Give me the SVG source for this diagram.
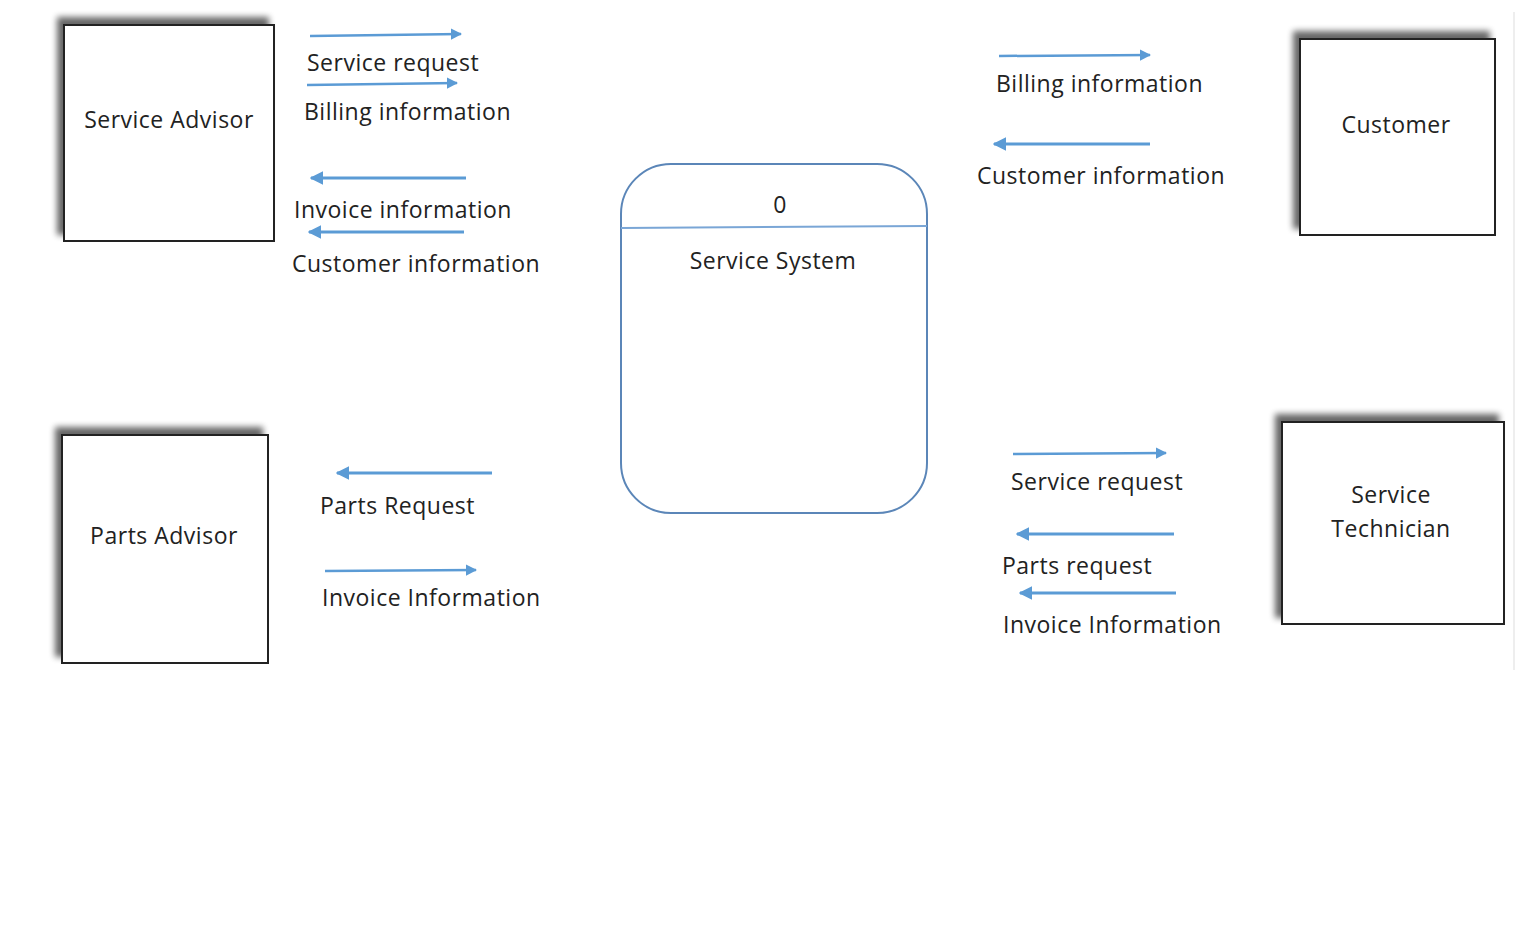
<svg xmlns="http://www.w3.org/2000/svg" width="1536" height="940" viewBox="0 0 1536 940">
<defs>
<style>
.ent{fill:#ffffff;stroke:#222222;stroke-width:2}
.lbl{font-family:"Open Sans","Noto Sans",sans-serif;font-size:23px;letter-spacing:0.5px;fill:#222222}
.mid{text-anchor:middle}
.flow{stroke:#5b9bd5;stroke-width:2.5;fill:none}
.fr{marker-end:url(#ah)}
.fl{stroke-width:3;marker-end:url(#ahl)}
</style>
<filter id="sh" x="-20%" y="-20%" width="140%" height="140%">
<feGaussianBlur in="SourceAlpha" stdDeviation="3"/>
<feOffset dx="-6" dy="-7" result="b"/>
<feComponentTransfer><feFuncA type="linear" slope="0.6"/></feComponentTransfer>
<feMerge><feMergeNode/><feMergeNode in="SourceGraphic"/></feMerge>
</filter>
<marker id="ah" viewBox="0 0 10 10" refX="9" refY="5" markerWidth="4.5" markerHeight="4.5" orient="auto" markerUnits="strokeWidth">
<path d="M0,0 L10,5 L0,10 z" fill="#5b9bd5"/>
</marker>
<marker id="ahl" viewBox="0 0 10 10" refX="9" refY="5" markerWidth="4.5" markerHeight="4.5" orient="auto" markerUnits="strokeWidth">
<path d="M0,0 L10,5 L0,10 z" fill="#5b9bd5"/>
</marker>
</defs>
<rect width="1536" height="940" fill="#ffffff"/>
<line x1="1514" y1="12" x2="1514" y2="670" stroke="#eeeeee" stroke-width="2"/>

<g id="service-advisor">
<rect class="ent" x="64" y="25" width="210" height="216" filter="url(#sh)"/>
<text class="lbl mid" x="169" y="128">Service Advisor</text>
</g>
<g id="customer">
<rect class="ent" x="1300" y="39" width="195" height="196" filter="url(#sh)"/>
<text class="lbl mid" x="1396" y="133">Customer</text>
</g>
<g id="parts-advisor">
<rect class="ent" x="62" y="435" width="206" height="228" filter="url(#sh)"/>
<text class="lbl mid" x="164" y="544">Parts Advisor</text>
</g>
<g id="service-technician">
<rect class="ent" x="1282" y="422" width="222" height="202" filter="url(#sh)"/>
<text class="lbl mid" x="1391" y="503">Service</text>
<text class="lbl mid" x="1391" y="537">Technician</text>
</g>
<g id="service-system">
<rect x="621" y="164" width="306" height="349" rx="50" ry="50" fill="#ffffff" stroke="#5b86b8" stroke-width="2"/>
<line x1="621" y1="228" x2="927" y2="226" stroke="#7aa6d6" stroke-width="2"/>
<text class="lbl mid" x="780" y="213">0</text>
<text class="lbl mid" x="773" y="269">Service System</text>
</g>

<g id="connectors">
<line class="flow fr" x1="310" y1="36" x2="461" y2="34"/>
<line class="flow fr" x1="307" y1="85" x2="457" y2="83"/>
<line class="flow fl" x1="466" y1="178" x2="311" y2="178"/>
<line class="flow fl" x1="464" y1="232" x2="309" y2="232"/>
<line class="flow fr" x1="999" y1="56" x2="1150" y2="55"/>
<line class="flow fl" x1="1150" y1="144" x2="994" y2="144"/>
<line class="flow fl" x1="492" y1="473" x2="337" y2="473"/>
<line class="flow fr" x1="325" y1="571" x2="476" y2="570"/>
<line class="flow fr" x1="1013" y1="454" x2="1166" y2="453"/>
<line class="flow fl" x1="1174" y1="534" x2="1017" y2="534"/>
<line class="flow fl" x1="1176" y1="593" x2="1020" y2="593"/>
</g>

<g id="flow-labels">
<text class="lbl" x="307" y="71">Service request</text>
<text class="lbl" x="304" y="120">Billing information</text>
<text class="lbl" x="294" y="218">Invoice information</text>
<text class="lbl" x="292" y="272">Customer information</text>
<text class="lbl" x="996" y="92">Billing information</text>
<text class="lbl" x="977" y="184">Customer information</text>
<text class="lbl" x="320" y="514">Parts Request</text>
<text class="lbl" x="322" y="606">Invoice Information</text>
<text class="lbl" x="1011" y="490">Service request</text>
<text class="lbl" x="1002" y="574">Parts request</text>
<text class="lbl" x="1003" y="633">Invoice Information</text>
</g>
</svg>
